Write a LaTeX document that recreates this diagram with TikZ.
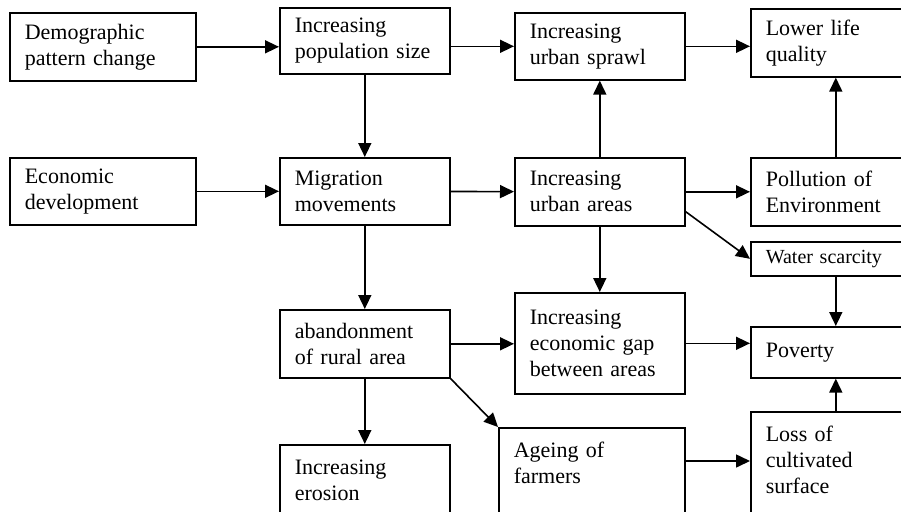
\documentclass[tikz,border=0pt]{standalone}
\usepackage{fontspec}
\setmainfont{Liberation Serif}
\usetikzlibrary{arrows.meta}

\tikzset{
  box/.style={draw, line width=0.8pt, anchor=north west, align=left,
    inner xsep=7.5pt, inner ysep=0pt, font=\fontsize{11}{13}\selectfont},
  widebox/.style={box, minimum width=93pt, text width=78pt},
  midbox/.style={box, minimum width=85pt, text width=70pt},
  openbox/.style={inner ysep=7pt, text height=8pt},
  arr/.style={line width=0.8pt, -{Triangle[length=7pt,width=6.5pt]}}
}

\begin{document}
\begin{tikzpicture}[x=0.5pt,y=-0.5pt]
  \useasboundingbox (0,0) rectangle (901,511);
  \clip (0,0) rectangle (901,511);

  \node[widebox, minimum height=34pt] (demog) at (9,12) {Demographic\\pattern change};
  \node[midbox, minimum height=33pt] (popsize) at (279,7) {Increasing\\population size};
  \node[midbox, minimum height=33.5pt] (sprawl) at (514,12) {Increasing\\urban sprawl};
  \node[midbox, minimum height=34pt] (lifeq) at (750,8) {Lower life\\quality};

  \node[widebox, minimum height=33.5pt] (econ) at (9,157) {Economic\\development};
  \node[midbox, minimum height=33.5pt] (migr) at (279,157) {Migration\\movements};
  \node[midbox, minimum height=34pt] (urban) at (514,157) {Increasing\\urban areas};
  \node[midbox, minimum height=34pt] (pollut) at (750,157) {Pollution of\\Environment};
  \node[midbox, minimum height=17pt, font=\fontsize{10}{12}\selectfont] (water) at (750,241) {Water scarcity};

  \node[midbox, minimum height=34pt] (abandon) at (279,309) {abandonment\\of rural area};
  \node[midbox, minimum height=50.5pt] (gap) at (514,292) {Increasing\\economic gap\\between areas};
  \node[midbox, minimum height=25.5pt] (poverty) at (750,326) {Poverty};

  \node[midbox, openbox, text depth=20pt] (erosion) at (279,444) {Increasing\\erosion};
  \node[widebox, openbox, text depth=30pt] (ageing) at (498,427) {Ageing of\\farmers};
  \node[midbox, openbox, text depth=40pt] (loss) at (750,411) {Loss of\\cultivated\\surface};

  \draw[arr] (demog.east) -- (demog.east -| popsize.west);
  \draw[arr] (sprawl.west -| popsize.east) -- (sprawl.west);
  \draw[arr] (sprawl.east) -- (sprawl.east -| lifeq.west);
  \draw[arr] (popsize.south) -- (migr.north);
  \draw[arr] (econ) -- (migr);
  \draw[arr] (migr) -- (urban);
  \draw[arr] (urban) -- (pollut);
  \draw[arr] (urban.north) -- (sprawl.south);
  \draw[arr] (pollut.north) -- (lifeq.south);
  \draw[arr] ([yshift=7.5pt]urban.south east) -- (water.west);
  \draw[arr] (migr.south) -- (abandon.north);
  \draw[arr] (urban.south) -- (gap.north);
  \draw[arr] (abandon.east) -- (abandon.east -| gap.west);
  \draw[arr] (gap.east) -- (gap.east -| poverty.west);
  \draw[arr] (water.south) -- (poverty.north);
  \draw[arr] (loss.north) -- (poverty.south);
  \draw[arr] (abandon.south) -- (erosion.north);
  \draw[arr] (abandon.south east) -- (ageing.north west);
  \draw[arr] ([yshift=-17pt]ageing.north east) -- ([yshift=-17pt]ageing.north east -| loss.west);
\end{tikzpicture}
\end{document}
